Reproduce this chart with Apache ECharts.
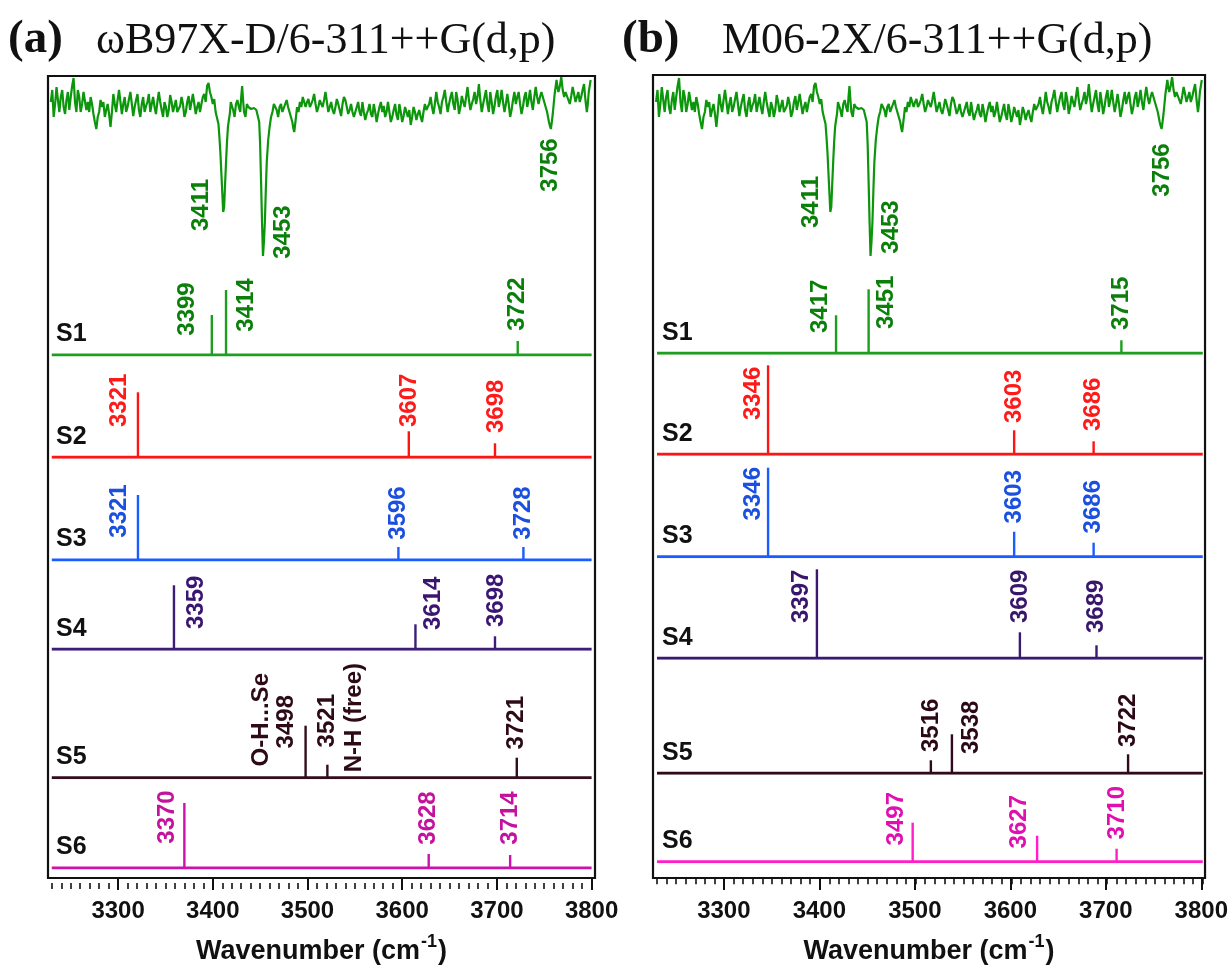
<!DOCTYPE html>
<html><head><meta charset="utf-8">
<script src="https://cdn.jsdelivr.net/npm/echarts@6/dist/echarts.min.js"></script>
<style>html,body{margin:0;padding:0;background:#fff}#c{width:1231px;height:970px}</style>
</head><body><div id="c"></div>
<script>
// ================= DATA =================
const panelTags = ['(a)', '(b)'];
const panelTitles = ['ωB97X-D/6-311++G(d,p)', 'M06-2X/6-311++G(d,p)'];
const rowNames = ['S1', 'S2', 'S3', 'S4', 'S5', 'S6'];
const xTickValues = [3300, 3400, 3500, 3600, 3700, 3800];
const xTickLabels = ['3300', '3400', '3500', '3600', '3700', '3800'];
const xAxisTitle = 'Wavenumber (cm';
const xAxisTitleSup = '-1';
const baselineRange = [3230, 3800];

// Experimental spectrum (same trace in both panels): [wavenumber, signal (arb. units)]
const expSpectrum = [
[3229,160],[3230.5,172],[3232,145],[3233.5,158],[3235,175],[3236.5,162],[3238,150],[3239.5,165],[3241,172],[3242.5,155],
[3244,148],[3245.5,162],[3247,170],[3248.5,152],[3250,165],[3251.5,176],[3253,184],[3254.5,160],[3256,150],[3257.5,172],
[3259,165],[3260.5,150],[3262,158],[3263.5,170],[3265,168],[3266.5,152],[3268,160],[3269.5,150],[3271,165],[3272.5,158],
[3274,148],[3275.5,140],[3277,133],[3278.5,145],[3280,150],[3281.5,162],[3283,155],[3284.5,160],[3286,145],[3287.5,152],
[3289,158],[3290.5,148],[3292,135],[3293.5,150],[3295,168],[3296.5,158],[3298,150],[3299.5,162],[3301,172],[3302.5,160],
[3304,148],[3305.5,158],[3307,165],[3308.5,150],[3310,155],[3311.5,163],[3313,170],[3314.5,158],[3316,146],[3317.5,155],
[3319,162],[3320.5,168],[3322,152],[3323.5,145],[3325,158],[3326.5,165],[3328,150],[3329.5,156],[3331,160],[3332.5,168],
[3334,150],[3335.5,158],[3337,165],[3338.5,155],[3340,148],[3341.5,160],[3343,170],[3344.5,160],[3346,152],[3347.5,145],
[3349,160],[3350.5,155],[3352,145],[3353.5,152],[3355,167],[3356.5,160],[3358,150],[3359.5,156],[3361,162],[3362.5,150],
[3364,148],[3365.5,156],[3367,165],[3368.5,158],[3370,145],[3371.5,150],[3373,160],[3374.5,166],[3376,152],[3377.5,160],
[3379,168],[3380.5,158],[3382,148],[3383.5,155],[3385,160],[3386.5,150],[3388,158],[3389.5,165],[3391,168],[3392.5,160],
[3394,176],[3395.5,179],[3397,170],[3398.5,165],[3400,158],[3401.5,163],[3403,150],[3404.5,148],[3406,138],[3407,125],
[3408,110],[3409,90],[3410,70],[3411,50],[3412,55],[3413,78],[3414,100],[3415,120],[3416,135],[3417,142],
[3418,148],[3419,160],[3420,160],[3421.5,152],[3423,145],[3424.5,158],[3426,162],[3427.5,155],[3429,150],[3430,165],
[3431,176],[3432,162],[3433,150],[3434.5,145],[3436,158],[3437.5,155],[3439,156],[3440.5,153],[3442,155],[3443.5,154],
[3445,153],[3446,152],[3447,148],[3448,146],[3449,140],[3450,118],[3451,80],[3452,40],[3453,6],[3454,20],
[3455,40],[3456,72],[3457,100],[3458.5,122],[3460,135],[3461.5,145],[3463,150],[3464.5,158],[3466,160],[3467.5,152],
[3469,145],[3470.5,155],[3472,158],[3473.5,150],[3475,148],[3476.5,158],[3478,162],[3479.5,155],[3481,150],[3482.5,145],
[3484,140],[3485,134],[3486,130],[3487.5,142],[3489,155],[3490.5,150],[3492,160],[3493.5,155],[3495,165],[3496.5,160],
[3498,155],[3499.5,160],[3501,163],[3502.5,155],[3504,158],[3505.5,162],[3507,168],[3508.5,158],[3510,150],[3511.5,155],
[3513,162],[3514.5,158],[3516,155],[3517.5,162],[3519,170],[3520.5,160],[3522,150],[3523.5,155],[3525,160],[3526.5,152],
[3528,148],[3529.5,155],[3531,163],[3532.5,158],[3534,152],[3535.5,146],[3537,158],[3538.5,165],[3540,162],[3541.5,155],
[3543,148],[3544.5,152],[3546,158],[3547.5,150],[3549,145],[3550.5,150],[3552,155],[3553.5,160],[3555,150],[3556.5,146],
[3558,160],[3559.5,150],[3561,142],[3562.5,148],[3564,152],[3565.5,158],[3567,148],[3568.5,145],[3570,158],[3571.5,150],
[3573,140],[3574.5,148],[3576,155],[3577.5,160],[3579,150],[3580.5,156],[3582,145],[3583.5,150],[3585,160],[3586.5,150],
[3588,140],[3589.5,145],[3591,152],[3592.5,158],[3594,147],[3595.5,142],[3597,158],[3598.5,150],[3600,140],[3601.5,146],
[3603,155],[3604.5,150],[3606,145],[3607.5,152],[3609,137],[3610.5,145],[3612,155],[3613.5,150],[3615,142],[3616.5,148],
[3618,152],[3619.5,145],[3621,140],[3622.5,150],[3624,158],[3625.5,152],[3627,150],[3628.5,158],[3630,165],[3631.5,155],
[3633,148],[3634.5,158],[3636,170],[3637.5,160],[3639,155],[3640.5,148],[3642,160],[3643.5,165],[3645,172],[3646.5,160],
[3648,150],[3649.5,158],[3651,165],[3652.5,170],[3654,158],[3655.5,152],[3657,170],[3658.5,162],[3660,148],[3661.5,155],
[3663,166],[3664.5,160],[3666,155],[3667.5,165],[3669,175],[3670.5,162],[3672,152],[3673.5,158],[3675,163],[3676.5,170],
[3678,158],[3679.5,165],[3681,178],[3682.5,162],[3684,150],[3685.5,158],[3687,165],[3688.5,172],[3690,158],[3691.5,150],
[3693,170],[3694.5,160],[3696,148],[3697.5,156],[3699,166],[3700.5,172],[3702,155],[3703.5,162],[3705,172],[3706.5,160],
[3708,150],[3709.5,158],[3711,168],[3712.5,158],[3714,145],[3715.5,152],[3717,162],[3718.5,170],[3720,158],[3721.5,165],
[3723,170],[3724.5,158],[3726,148],[3727.5,155],[3729,165],[3730.5,170],[3732,155],[3733.5,162],[3735,172],[3736.5,160],
[3738,152],[3739.5,165],[3741,175],[3742.5,165],[3744,158],[3745.5,165],[3747,170],[3748.5,165],[3750,160],[3751.5,155],
[3753,150],[3754,145],[3755,140],[3756,136],[3757,133],[3758,140],[3759,148],[3760,158],[3761,168],[3762,175],
[3763,182],[3764,175],[3765,170],[3766.5,176],[3768,185],[3769.5,172],[3771,165],[3772.5,170],[3774,172],[3775.5,162],
[3777,158],[3778.5,166],[3780,175],[3781.5,168],[3783,160],[3784.5,165],[3786,170],[3787.5,160],[3789,165],[3790.5,172],
[3792,178],[3793.5,162],[3795,150],[3796,158],[3797,170],[3798,176],[3799,182]
];
const expPeaks = [3411, 3453, 3756];

// Panel (a) ωB97X-D : frequencies and relative intensities per structure
const freqA = [[3399, 3414, 3722], [3321, 3607, 3698], [3321, 3596, 3728], [3359, 3614, 3698], [3498, 3521, 3721], [3370, 3628, 3714]];
const intA  = [[40, 65, 14], [65, 26, 14], [65, 13, 13], [64, 25, 13], [52, 13, 20], [65, 14, 13]];
// Panel (b) M06-2X
const freqB = [[3417, 3451, 3715], [3346, 3603, 3686], [3346, 3603, 3686], [3397, 3609, 3689], [3516, 3538, 3722], [3497, 3627, 3710]];
const intB  = [[38, 64, 13], [89, 24, 13], [89, 25, 14], [89, 26, 13], [13, 39, 19], [39, 26, 13]];
// extra annotations in panel (a) S5
const notesA5 = ['O-H...Se', 'N-H (free)'];
const notesA5Freq = [3498, 3521];

// ================= LAYOUT / STYLE =================
const SANS = '"Liberation Sans", Arial, Helvetica, sans-serif';
const SERIF = '"Liberation Serif", "Times New Roman", serif';
const LAB_FONT = 'bold 24px ' + SANS;
const panels = [
  {
    frame: {left: 48, top: 76, width: 547, height: 807}, xMin: 3226, xMax: 3803.6,
    expBottom: 262, expTop: 78,
    baselines: [355, 457.3, 560, 649.3, 777.7, 868],
    rise: [[46, 50, 51], [57, 57, 51], [49, 47, 47], [47, 46, 49], [56, 57, 55], [51, 50, 50]],
    dx: [[-24, 20, 0], [-19, 1, 1], [-19, 0, 0], [22, 18, 1], [-19, 0, 0], [-17, 0, 0]],
    expLab: {rise: [57, 30, 97], dx: [-22, 20, 0]},
    freq: freqA, ints: intA,
    line: ['#1e9e1e', '#ff1414', '#1a5cff', '#3c1e78', '#330d1e', '#cc12aa'],
    text: ['#0a7f0a', '#ff1a1a', '#1a4fe0', '#3a1572', '#2e0a18', '#c4129e'],
    tagX: 8, titleX: 96, nameDx: 8,
    notes: {row: 4, texts: notesA5, freq: notesA5Freq, dx: [-44, 27], rise: [58, 60]}
  },
  {
    frame: {left: 653, top: 75, width: 553.5, height: 803.3}, xMin: 3225.8, xMax: 3803.9,
    expBottom: 262, expTop: 78,
    baselines: [353.3, 454.3, 556.7, 658.3, 773.3, 861.7],
    rise: [[47, 51, 50], [61, 58, 50], [63, 60, 50], [62, 62, 52], [48, 46, 53], [43, 40, 49]],
    dx: [[-16, 18, 0], [-15, 0, 0], [-15, 0, 0], [-16, 0, 0], [1, 19, 0], [-16, -18, 1]],
    expLab: {rise: [60, 35, 92], dx: [-19, 21, 2]},
    freq: freqB, ints: intB,
    line: ['#1e9e1e', '#ff1414', '#1a5cff', '#3a1a70', '#2e0a1a', '#ff1ec8'],
    text: ['#0a7f0a', '#ff1a1a', '#1a4fe0', '#38166c', '#2a0816', '#e010b0'],
    tagX: 622, titleX: 722, nameDx: 9,
    notes: null
  }
];
const EXP_COLOR = '#0c960c', EXP_TEXT = '#0a800a';
const ROW_H = 100;

const minorTicks = [];
for (let v = baselineRange[0]; v <= baselineRange[1]; v += 10) minorTicks.push(v);

const grids = [], xAxes = [], yAxes = [], series = [], graphics = [];

function addGrid(rect, showBorder) {
  grids.push(Object.assign({containLabel: false, show: !!showBorder, borderColor: '#111', borderWidth: 2.2, backgroundColor: 'transparent'}, rect));
  return grids.length - 1;
}
function hiddenX(gi, p) {
  xAxes.push({gridIndex: gi, type: 'value', min: p.xMin, max: p.xMax, show: false});
  return xAxes.length - 1;
}
function hiddenY(gi, min, max) {
  yAxes.push({gridIndex: gi, type: 'value', min: min, max: max, show: false});
  return yAxes.length - 1;
}

panels.forEach((p, pi) => {
  const f = p.frame;
  // frame grid with major ticks + labels
  const gF = addGrid({left: f.left, top: f.top, width: f.width, height: f.height}, true);
  xAxes.push({
    gridIndex: gF, type: 'value', min: p.xMin, max: p.xMax, position: 'bottom',
    axisLine: {show: false}, splitLine: {show: false},
    axisTick: {show: true, inside: false, length: 12, customValues: xTickValues, lineStyle: {color: '#111', width: 2}},
    axisLabel: {show: true, customValues: xTickValues, margin: 21,
      formatter: v => xTickLabels[xTickValues.indexOf(v)] || '',
      color: '#111', fontSize: 24, fontWeight: 'bold', fontFamily: SANS},
    name: '{t|' + xAxisTitle + '}{s|' + xAxisTitleSup + '}{t|)}', nameLocation: 'middle', nameGap: 55,
    nameTextStyle: {rich: {
      t: {fontSize: 27, fontWeight: 'bold', fontFamily: SANS, color: '#111', lineHeight: 32, verticalAlign: 'bottom'},
      s: {fontSize: 18, fontWeight: 'bold', fontFamily: SANS, color: '#111', lineHeight: 32, verticalAlign: 'top', padding: [0, 1, 0, 1]}
    }}
  });
  hiddenY(gF, 0, 1);
  // minor ticks grid
  const gM = addGrid({left: f.left, top: f.top, width: f.width, height: f.height}, false);
  xAxes.push({
    gridIndex: gM, type: 'value', min: p.xMin, max: p.xMax, position: 'bottom',
    axisLine: {show: false}, splitLine: {show: false}, axisLabel: {show: false},
    axisTick: {show: true, inside: false, length: 6, customValues: minorTicks, lineStyle: {color: '#111', width: 1.6}}
  });
  hiddenY(gM, 0, 1);
  series.push({type: 'line', xAxisIndex: xAxes.length - 1, yAxisIndex: yAxes.length - 1, data: [], silent: true});

  // experimental trace
  const gE = addGrid({left: f.left, top: p.expTop, width: f.width, height: p.expBottom - p.expTop}, false);
  const xE = hiddenX(gE, p), yE = hiddenY(gE, 0, p.expBottom - p.expTop);
  series.push({
    type: 'line', xAxisIndex: xE, yAxisIndex: yE, showSymbol: false, symbol: 'none',
    data: expSpectrum,
    lineStyle: {color: EXP_COLOR, width: 2.2}, animation: false, silent: true
  });
  series.push({
    type: 'custom', xAxisIndex: xE, yAxisIndex: yE, silent: true, animation: false,
    data: expPeaks.map(w => [w, 0]),
    renderItem: (params, api) => {
      const i = params.dataIndex, w = api.value(0);
      const c = api.coord([w, 0]);
      return {type: 'text', x: c[0] + p.expLab.dx[i], y: c[1] - p.expLab.rise[i], rotation: Math.PI / 2,
        style: {text: String(w), fill: EXP_TEXT, font: LAB_FONT, align: 'center', verticalAlign: 'middle'}};
    }
  });

  // stick spectra rows
  rowNames.forEach((nm, r) => {
    const bl = p.baselines[r];
    const gR = addGrid({left: f.left, top: bl - ROW_H, width: f.width, height: ROW_H}, false);
    const xR = hiddenX(gR, p), yR = hiddenY(gR, 0, ROW_H);
    series.push({
      type: 'line', xAxisIndex: xR, yAxisIndex: yR, showSymbol: false, symbol: 'none',
      data: [[baselineRange[0], 0], [baselineRange[1], 0]],
      lineStyle: {color: p.line[r], width: 3}, animation: false, silent: true
    });
    series.push({
      type: 'custom', xAxisIndex: xR, yAxisIndex: yR, silent: true, animation: false,
      data: p.freq[r].map((w, i) => [w, p.ints[r][i]]),
      renderItem: (params, api) => {
        const i = params.dataIndex, w = api.value(0), h = api.value(1);
        const c0 = api.coord([w, 0]), c1 = api.coord([w, h]);
        const kids = [
          {type: 'line', shape: {x1: c0[0], y1: c0[1], x2: c1[0], y2: c1[1]}, style: {stroke: p.line[r], lineWidth: 2.4}},
          {type: 'text', x: c0[0] + p.dx[r][i], y: c0[1] - p.rise[r][i], rotation: Math.PI / 2,
            style: {text: String(w), fill: p.text[r], font: LAB_FONT, align: 'center', verticalAlign: 'middle'}}
        ];
        if (p.notes && p.notes.row === r) {
          const k = p.notes.freq.indexOf(w);
          if (k >= 0) kids.push({type: 'text', x: c0[0] + p.notes.dx[k], y: c0[1] - p.notes.rise[k], rotation: Math.PI / 2,
            style: {text: p.notes.texts[k], fill: p.text[r], font: LAB_FONT, align: 'center', verticalAlign: 'middle'}});
        }
        return {type: 'group', children: kids};
      }
    });
    graphics.push({type: 'text', left: f.left + p.nameDx, top: bl - 21 - 12,
      style: {text: nm, fill: '#111', font: 'bold 25px ' + SANS}});
  });

  // panel titles
  graphics.push({type: 'text', left: p.tagX, top: 16, style: {text: panelTags[pi], fill: '#111', font: 'bold 47px ' + SERIF}});
  graphics.push({type: 'text', left: p.titleX, top: 19, style: {text: panelTitles[pi], fill: '#111', font: '44px ' + SERIF}});
});

const chart = echarts.init(document.getElementById('c'), null, {renderer: 'canvas'});
chart.setOption({
  animation: false, backgroundColor: '#fff',
  grid: grids, xAxis: xAxes, yAxis: yAxes, series: series, graphic: graphics
});
</script></body></html>
